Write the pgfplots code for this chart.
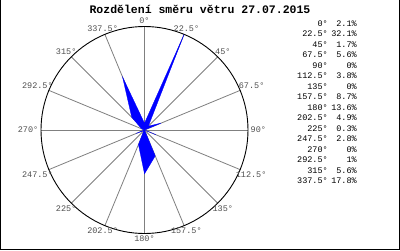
\documentclass[border=0pt]{standalone}
\usepackage{fontspec}
\setmainfont{Liberation Mono}
\usepackage{pgfplots}
\pgfplotsset{compat=1.18}
\usepackage{pgfplotstable}
\usetikzlibrary{calc}
\definecolor{spoke}{RGB}{128,128,128}
\definecolor{lab}{RGB}{80,80,80}
\pgfplotstableread{
a v
0 2.1
22.5 32.1
45 1.7
67.5 5.6
90 0
112.5 3.8
135 0
157.5 8.7
180 13.6
202.5 4.9
225 0.3
247.5 2.8
270 0
292.5 1
315 5.6
337.5 17.8
0 2.1
}\winddata
\begin{document}
\begin{tikzpicture}[x=1pt,y=1pt]
\path[use as bounding box, fill=white] (0,0) rectangle (400,250);
\draw[black, line width=1pt] (0.5,250) -- (0.5,0.5) -- (399.5,0.5) -- (399.5,250);
\node[font=\bfseries\fontsize{11.5}{12}\selectfont, inner sep=0pt] at (200,240.5) {Rozdělení směru větru 27.07.2015};
\foreach \a in {0,22.5,...,337.5} {
  \pgfmathsetmacro\m{90-\a}
  \draw[spoke, line width=0.8pt] (144.5pt,120pt) -- ++(\m:103.5pt);
}
\draw[black, line width=0.9pt] (144.5pt,120pt) circle (103.5pt);
\foreach \a in {0,22.5,45,67.5,90,112.5,135,157.5,180,202.5,225,247.5,270,292.5,315,337.5} {
  \pgfmathsetmacro\m{90-\a}
  \pgfmathsetmacro\an{270-\a}
  \node[lab, font=\fontsize{8.5}{9}\selectfont, inner sep=1pt, anchor=\an] at ($(144.5pt,120pt)+(\m:105pt)$) {\a°};
}
\foreach \a/\v [count=\i from 0] in {0/2.1,22.5/32.1,45/1.7,67.5/5.6,90/0,112.5/3.8,135/0,157.5/8.7,180/13.6,202.5/4.9,225/0.3,247.5/2.8,270/0,292.5/1,315/5.6,337.5/17.8} {
  \node[font=\fontsize{8.5}{9}\selectfont, inner sep=0pt, anchor=base east] at (328, 250-26.5-10.47*\i) {\a°};
  \node[font=\fontsize{8.5}{9}\selectfont, inner sep=0pt, anchor=base east] at (357, 250-26.5-10.47*\i) {\v\%};
}
\begin{axis}[at={(144.5pt,120pt)}, anchor=center, scale only axis, width=207pt, height=207pt,
  xmin=-32.1, xmax=32.1, ymin=-32.1, ymax=32.1, hide axis, clip=false]
\addplot[draw=blue, fill=blue, line width=0.3pt, mark=none]
  table[x expr={\thisrow{v}*sin(\thisrow{a})}, y expr={\thisrow{v}*cos(\thisrow{a})}] {\winddata};
\end{axis}
\end{tikzpicture}
\end{document}
